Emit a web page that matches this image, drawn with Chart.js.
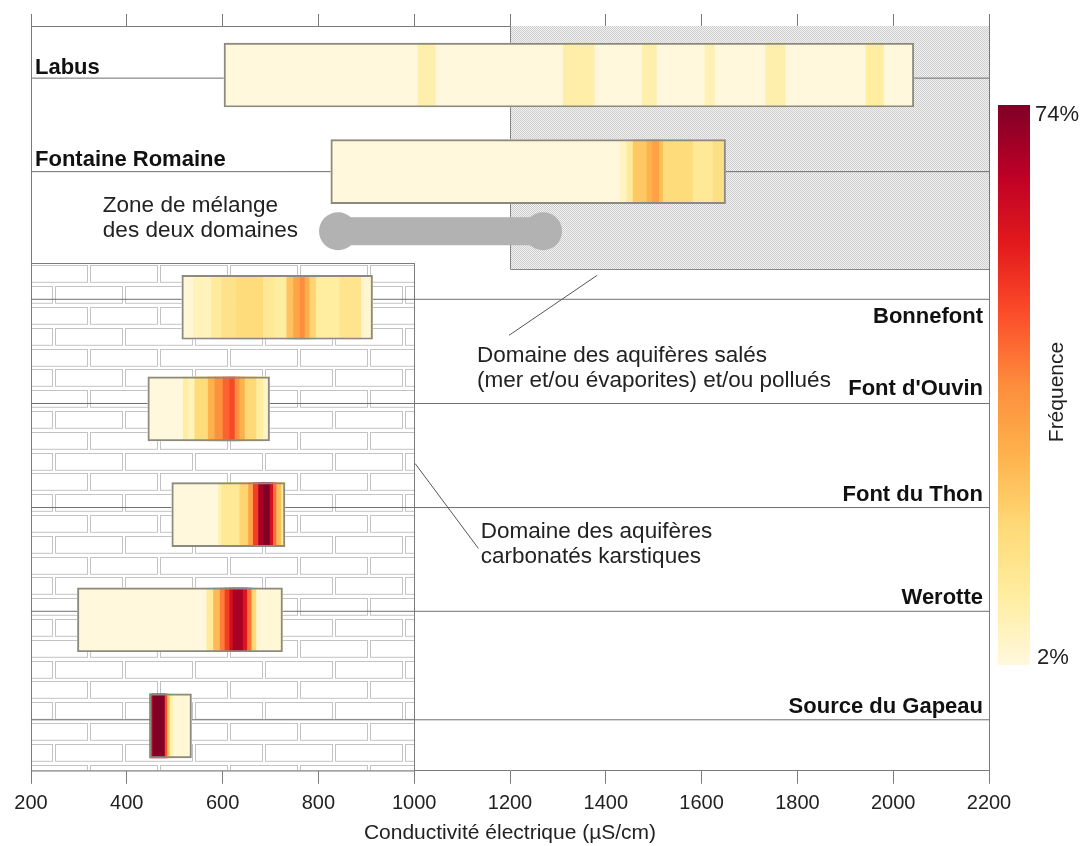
<!DOCTYPE html>
<html>
<head>
<meta charset="utf-8">
<script src="https://cdn.jsdelivr.net/npm/chart.js@4.4.1/dist/chart.umd.min.js"></script>
<style>
  html, body { margin: 0; padding: 0; background: #fff; }
  canvas { display: block; }
</style>
</head>
<body>
<canvas id="chart" width="1084" height="846"></canvas>
<script>
// Sources et position des lignes
const stations = ["Labus", "Fontaine Romaine", "Bonnefont", "Font d'Ouvin", "Font du Thon", "Werotte", "Source du Gapeau"];
const rowPos = [0.474, 1.408, 2.719, 3.702, 4.723, 5.74, 6.765];

// classes de conductivité (µS/cm) et fréquence (%) de chaque classe
const labusEdges = [603, 1008, 1045, 1311, 1377, 1476, 1507, 1607, 1628, 1734, 1776, 1943, 1981, 2043];
const labusFreq = [2, 9, 2, 10, 2, 9, 2, 8, 2, 9, 2, 11, 2];

const romaineEdges = [826, 1430, 1444, 1457, 1486, 1497, 1512, 1520, 1528, 1582, 1624, 1650];
const romaineFreq = [2, 6, 12, 24, 29, 33, 26, 18, 19, 13, 17];

const bonnefontEdges = [515, 539, 577, 598, 629, 685, 709, 734, 748, 762, 772, 782, 796, 845, 890, 913];
const bonnefontFreq = [3, 7, 12, 16, 19, 13, 11, 25, 32, 38, 30, 21, 11, 15, 4];

const ouvinEdges = [444, 518, 528, 542, 570, 584, 601, 615, 626, 636, 647, 671, 685, 698];
const ouvinFreq = [2, 11, 7, 19, 29, 37, 44, 48, 37, 29, 20, 11, 5];

const thonEdges = [494, 591, 598, 636, 654, 664, 675, 685, 699, 706, 713, 723, 730];
const thonFreq = [2, 8, 13, 21, 32, 50, 68, 74, 60, 42, 26, 12];

const werotteEdges = [297, 567, 581, 595, 605, 615, 622, 643, 652, 661, 671, 725];
const werotteFreq = [2, 12, 27, 40, 50, 60, 68, 58, 42, 20, 3];

const gapeauEdges = [448, 454, 480, 485, 490, 497, 535];
const gapeauFreq = [56, 74, 47, 25, 9, 3];

const xTickValues = [200, 400, 600, 800, 1000, 1200, 1400, 1600, 1800, 2000, 2200];
const freqRange = [2, 74];

const binEdges = [labusEdges, romaineEdges, bonnefontEdges, ouvinEdges, thonEdges, werotteEdges, gapeauEdges];
const binFreq = [labusFreq, romaineFreq, bonnefontFreq, ouvinFreq, thonFreq, werotteFreq, gapeauFreq];

// styles
const FONT = "'Liberation Sans', Arial, sans-serif";
const guideShift = [0.03, 0, -0.077, -0.053, -0.068, -0.082, -0.058];
const labelDy = [-10, -12, 18, -15, -13, -13, -13];
const heatStops = ["#fff8dc", "#ffeda0", "#fed976", "#feb24c", "#fd8d3c", "#fc4e2a", "#e31a1c", "#bd0026", "#800026"];

function hexToRgb(h) {
  return [parseInt(h.slice(1, 3), 16), parseInt(h.slice(3, 5), 16), parseInt(h.slice(5, 7), 16)];
}
function heatColor(f) {
  let t = (f - freqRange[0]) / (freqRange[1] - freqRange[0]);
  t = Math.max(0, Math.min(1, t)) * (heatStops.length - 1);
  const i = Math.min(Math.floor(t), heatStops.length - 2);
  const a = hexToRgb(heatStops[i]), b = hexToRgb(heatStops[i + 1]);
  const k = t - i;
  const c = a.map((v, j) => Math.round(v + (b[j] - v) * k));
  return `rgb(${c[0]},${c[1]},${c[2]})`;
}

const binData = [];
binEdges.forEach((edges, s) => {
  for (let i = 0; i < edges.length - 1; i++) {
    binData.push({ x: [edges[i], edges[i + 1]], y: rowPos[s], f: binFreq[s][i] });
  }
});
const boxData = binEdges.map((edges, s) => ({ x: [edges[0], edges[edges.length - 1]], y: rowPos[s] }));

const guideSets = stations.map((name, s) => ({
  type: "line",
  label: name,
  indexAxis: "x",
  data: [{ x: 200, y: rowPos[s] + guideShift[s] }, { x: 2200, y: rowPos[s] + guideShift[s] }],
  borderColor: "#6f6f6f",
  borderWidth: 1,
  pointRadius: 0,
  order: 3
}));

// motif hachuré (damier fin)
function makeHatch(ctx) {
  const p = document.createElement("canvas");
  p.width = 2; p.height = 2;
  const c = p.getContext("2d");
  c.fillStyle = "#f2f2f2";
  c.fillRect(0, 0, 2, 2);
  c.fillStyle = "#cdcdcd";
  c.fillRect(0, 0, 1, 1);
  c.fillRect(1, 1, 1, 1);
  return ctx.createPattern(p, "repeat");
}

const backdrop = {
  id: "backdrop",
  beforeDatasetsDraw(chart) {
    const { ctx, chartArea: a, scales: { x, y } } = chart;
    ctx.save();
    // domaine salé
    const hx = Math.round(x.getPixelForValue(1200)), hy = Math.round(y.getPixelForValue(2.352));
    ctx.fillStyle = makeHatch(ctx);
    ctx.fillRect(hx, a.top, a.right - hx, hy - a.top);
    ctx.strokeStyle = "#858585";
    ctx.lineWidth = 1;
    ctx.beginPath();
    ctx.moveTo(hx + 0.5, a.top);
    ctx.lineTo(hx + 0.5, hy + 0.5);
    ctx.lineTo(a.right, hy + 0.5);
    ctx.stroke();

    // domaine karstique : briques
    const bx0 = a.left, bx1 = x.getPixelForValue(1000);
    const by0 = y.getPixelForValue(2.294), by1 = a.bottom;
    ctx.save();
    ctx.beginPath();
    ctx.rect(bx0, by0, bx1 - bx0, by1 - by0);
    ctx.clip();
    ctx.fillStyle = "#fff";
    ctx.fillRect(bx0, by0, bx1 - bx0, by1 - by0);
    ctx.strokeStyle = "#c3c3c3";
    ctx.lineWidth = 1;
    const rowH = 20.8, brickW = 70;
    for (let r = 0, yy = by0 + 2; yy < by1; r++, yy += rowH) {
      const off = r % 2 ? 0 : 35;
      for (let xx = bx0 - 70 + off + 24; xx < bx1; xx += brickW) {
        ctx.strokeRect(Math.round(xx) + 0.5, Math.round(yy) + 0.5, brickW - 3, rowH - 4);
      }
    }
    ctx.restore();
    ctx.strokeStyle = "#7c7c7c";
    ctx.strokeRect(bx0 + 0.5, Math.round(by0) + 0.5, Math.round(bx1 - bx0), by1 - by0);

    // zone de mélange : double flèche
    const ax0 = x.getPixelForValue(841), ax1 = x.getPixelForValue(1269), ay = y.getPixelForValue(1.984);
    ctx.fillStyle = "#b2b2b2";
    ctx.fillRect(ax0, ay - 14, ax1 - ax0, 28);
    [ax0, ax1].forEach(cx => {
      ctx.beginPath();
      ctx.arc(cx, ay, 19, 0, Math.PI * 2);
      ctx.fill();
    });
    ctx.restore();
  }
};

const overlay = {
  id: "overlay",
  afterDatasetsDraw(chart) {
    const { ctx, chartArea: a, scales: { x, y } } = chart;
    ctx.save();
    ctx.fillStyle = "#111";
    ctx.textBaseline = "middle";
    ctx.font = `bold 22px ${FONT}`;
    stations.forEach((name, s) => {
      const ly = y.getPixelForValue(rowPos[s] + guideShift[s]) + labelDy[s];
      if (s < 2) {
        ctx.textAlign = "left";
        ctx.fillText(name, a.left + 4, ly);
      } else {
        ctx.textAlign = "right";
        ctx.fillText(name, a.right - 6, ly);
      }
    });

    ctx.font = `22.5px ${FONT}`;
    ctx.fillStyle = "#222";
    ctx.textAlign = "left";
    const notes = [
      [350, 1.735, "Zone de mélange"], [350, 1.977, "des deux domaines"],
      [1131, 3.184, "Domaine des aquifères salés"], [1131, 3.426, "(mer et/ou évaporites) et/ou pollués"],
      [1139, 4.887, "Domaine des aquifères"], [1139, 5.129, "carbonatés karstiques"]
    ];
    notes.forEach(([vx, vy, t]) => ctx.fillText(t, x.getPixelForValue(vx), y.getPixelForValue(vy)));

    ctx.strokeStyle = "#555";
    ctx.lineWidth = 1;
    ctx.beginPath();
    ctx.moveTo(x.getPixelForValue(1198), y.getPixelForValue(2.99));
    ctx.lineTo(x.getPixelForValue(1382), y.getPixelForValue(2.41));
    ctx.moveTo(x.getPixelForValue(1002), y.getPixelForValue(4.23));
    ctx.lineTo(x.getPixelForValue(1134), y.getPixelForValue(5.05));
    ctx.stroke();

    // barre de couleur
    const cx0 = a.right + 9, cw = 32, cy0 = 105, cy1 = 665;
    const g = ctx.createLinearGradient(0, cy1, 0, cy0);
    heatStops.forEach((c, i) => g.addColorStop(i / (heatStops.length - 1), c));
    ctx.fillStyle = g;
    ctx.fillRect(cx0, cy0, cw, cy1 - cy0);
    ctx.fillStyle = "#222";
    ctx.font = `22px ${FONT}`;
    ctx.fillText(freqRange[1] + "%", cx0 + cw + 5, cy0 + 10);
    ctx.fillText(freqRange[0] + "%", cx0 + cw + 7, cy1 - 7);
    ctx.translate(a.right + 68, 392);
    ctx.rotate(-Math.PI / 2);
    ctx.textAlign = "center";
    ctx.font = `21px ${FONT}`;
    ctx.fillText("Fréquence", 0, 0);
    ctx.restore();
  }
};

Chart.defaults.font.family = FONT;

const ctx = document.getElementById("chart").getContext("2d");
const chart = new Chart(ctx, {
  type: "bar",
  data: {
    datasets: [
      ...guideSets,
      {
        label: "fréquence",
        indexAxis: "y",
        data: binData,
        backgroundColor: c => heatColor(c.raw ? c.raw.f : 2),
        borderWidth: 0,
        barThickness: 64,
        grouped: false,
        order: 2
      },
      {
        label: "étendue",
        indexAxis: "y",
        data: boxData,
        backgroundColor: "rgba(0,0,0,0)",
        borderColor: "#8a8a80",
        borderWidth: 1.3,
        borderSkipped: false,
        barThickness: 64,
        grouped: false,
        order: 1
      }
    ]
  },
  options: {
    responsive: false,
    animation: false,
    layout: { padding: { left: 31, right: 95, top: 14, bottom: 0 } },
    plugins: { legend: { display: false }, tooltip: { enabled: false } },
    scales: {
      x: {
        type: "linear", position: "bottom", min: 200, max: 2200, offset: false,
        afterBuildTicks: s => { s.ticks = xTickValues.map(v => ({ value: v })); },
        ticks: { color: "#222", font: { size: 20 }, padding: 8, maxRotation: 0, callback: v => String(v) },
        grid: { offset: false, drawOnChartArea: false, tickLength: 13, color: "#7a7a7a" },
        border: { color: "#7a7a7a" },
        title: { display: true, text: "Conductivité électrique (µS/cm)", color: "#222", font: { size: 21 }, padding: { top: -3, bottom: 0 } }
      },
      x2: {
        type: "linear", position: "top", min: 200, max: 2200, offset: false,
        afterBuildTicks: s => { s.ticks = xTickValues.map(v => ({ value: v })); },
        ticks: { display: false },
        grid: { offset: false, drawOnChartArea: false, tickLength: 12, color: "#7a7a7a" },
        border: { color: "#7a7a7a" }
      },
      y: {
        type: "linear", position: "left", min: 0, max: 7.2, reverse: true, offset: false,
        ticks: { display: false },
        grid: { display: false, drawTicks: false },
        border: { color: "#7a7a7a" }
      },
      y2: {
        type: "linear", position: "right", min: 0, max: 7.2, reverse: true, offset: false,
        ticks: { display: false },
        grid: { display: false, drawTicks: false },
        border: { color: "#7a7a7a" }
      }
    }
  },
  plugins: [backdrop, overlay]
});
</script>
</body>
</html>
